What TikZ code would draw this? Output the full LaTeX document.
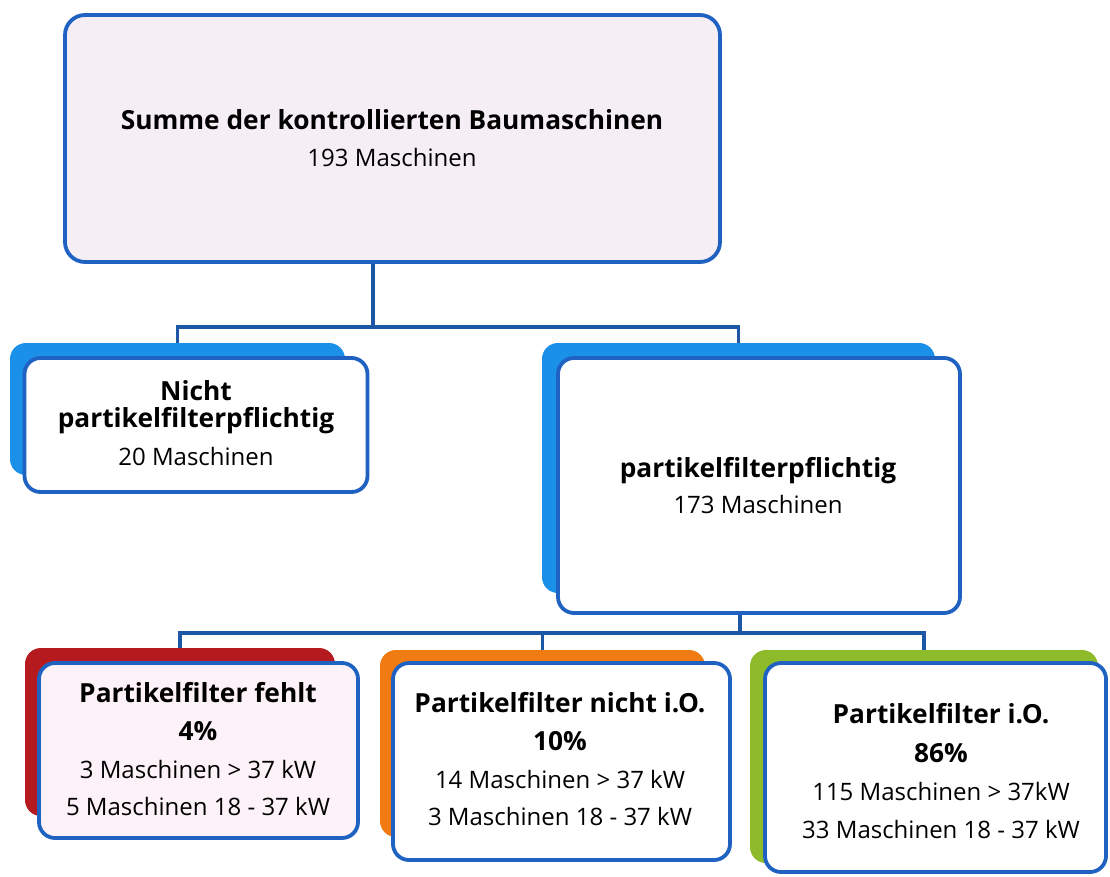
\documentclass[tikz,border=0pt]{standalone}
\usepackage{fontspec}
\setmainfont{Open Sans}
\definecolor{boxblue}{HTML}{1F62C2}
\definecolor{lineblue}{HTML}{1C58A6}
\definecolor{shblue}{HTML}{1A90E8}
\definecolor{shred}{HTML}{B51A1F}
\definecolor{shorange}{HTML}{F07B12}
\definecolor{shgreen}{HTML}{8DBB2A}
\definecolor{topfill}{HTML}{F5EEF4}
\definecolor{pinkfill}{HTML}{FCF2F7}
\begin{document}
\begin{tikzpicture}[x=1pt,y=-1pt,
  box/.style={draw=boxblue, line width=3.8pt, rounded corners=16pt, fill=white, inner sep=0pt},
  shad/.style={rounded corners=16pt, inner sep=0pt},
  conn/.style={draw=lineblue, line width=3.6pt},
  ln/.style={anchor=base, inner sep=0pt, font=\fontsize{24}{28}\selectfont},
  bln/.style={ln, font=\fontsize{26.3}{30}\selectfont\bfseries}]
\useasboundingbox (0,0) rectangle (1110,877);

% top box
\node[box, fill=topfill, rounded corners=20pt, minimum width=655, minimum height=247] (top) at (392.5,138.5) {};
\node[bln] (top1) at (392,130) {Summe der kontrollierten Baumaschinen};
\node[ln] (top2) at (392,167) {193 Maschinen};

% level 2 shadows
\node[shad, fill=shblue, minimum width=335, minimum height=132] (s1) at (177.5,409) {};
\node[shad, fill=shblue, minimum width=393, minimum height=250] (s2) at (738.5,468) {};
% level 2 boxes
\node[box, minimum width=343, minimum height=134] (n1) at (196,425) {};
\node[box, minimum width=402, minimum height=255] (n2) at (759,485.5) {};
\node[bln] (n1a) at (196,400) {Nicht};
\node[bln] (n1b) at (196,427) {partikelfilterpflichtig};
\node[ln] (n1c) at (196,465) {20 Maschinen};
\node[bln] (n2a) at (758,477) {partikelfilterpflichtig};
\node[ln] (n2b) at (758,513) {173 Maschinen};

% level 3 shadows
\node[shad, fill=shred, minimum width=310, minimum height=168] (s3) at (180,732) {};
\node[shad, fill=shorange, minimum width=325, minimum height=187] (s4) at (542.5,743.5) {};
\node[shad, fill=shgreen, minimum width=348, minimum height=213] (s5) at (924,756.5) {};
% level 3 boxes
\node[box, fill=pinkfill, minimum width=319, minimum height=175] (m1) at (198.5,750.5) {};
\node[box, minimum width=337, minimum height=197] (m2) at (561.5,761.5) {};
\node[box, minimum width=341, minimum height=209] (m3) at (935.5,767.5) {};

\node[bln] (m1a) at (198,702) {Partikelfilter fehlt};
\node[bln] (m1b) at (198,740) {4\%};
\node[ln] (m1c) at (198,778) {3 Maschinen > 37 kW};
\node[ln] (m1d) at (198,815) {5 Maschinen 18 - 37 kW};

\node[bln] (m2a) at (560,712) {Partikelfilter nicht i.O.};
\node[bln] (m2b) at (560,750) {10\%};
\node[ln] (m2c) at (560,788) {14 Maschinen > 37 kW};
\node[ln] (m2d) at (560,825) {3 Maschinen 18 - 37 kW};

\node[bln] (m3a) at (941,723) {Partikelfilter i.O.};
\node[bln] (m3b) at (941,762) {86\%};
\node[ln] (m3c) at (941,800) {115 Maschinen > 37kW};
\node[ln] (m3d) at (941,838) {33 Maschinen 18 - 37 kW};

% connectors
\coordinate (j1) at ([xshift=-19.5pt]top.south);
\draw[conn] (j1) -- ++(0,63) coordinate (h1);
\draw[conn] (s1.north) |- (h1) -| (s2.north);
\coordinate (j2) at ([xshift=-19pt]n2.south);
\draw[conn] (j2) -- ++(0,18) coordinate (h2);
\draw[conn] (s3.north) |- (h2) -| (s5.north);
\draw[conn] (s4.north) -- (s4.north |- h2);
\end{tikzpicture}
\end{document}
